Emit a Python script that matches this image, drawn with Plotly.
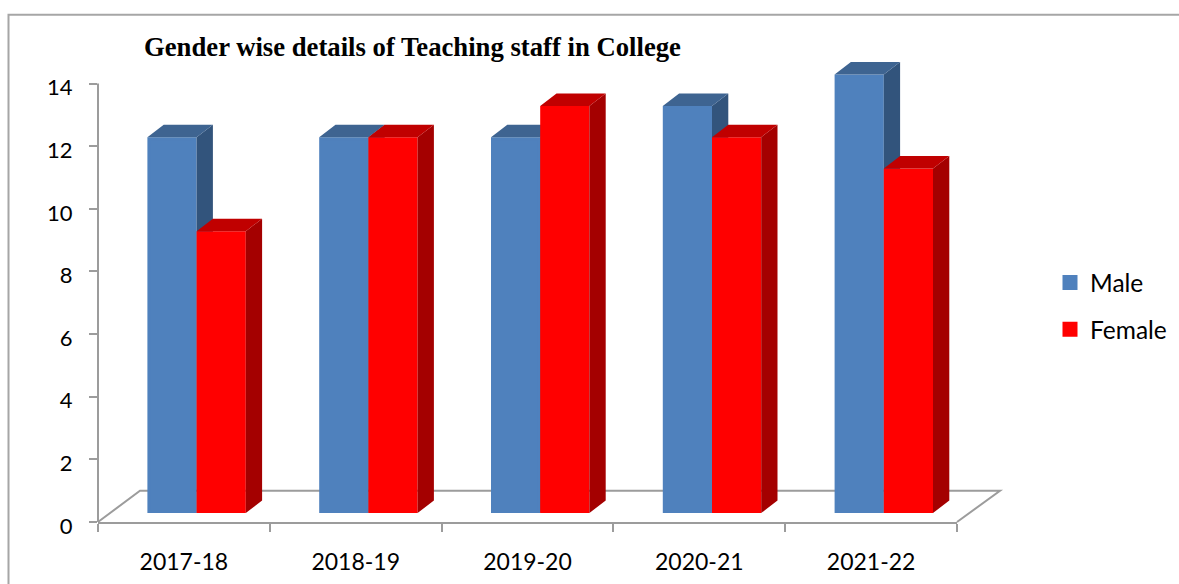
import plotly.graph_objects as go

# ---- data ----
categories = ["2017-18", "2018-19", "2019-20", "2020-21", "2021-22"]
male = [12, 12, 12, 13, 14]
female = [9, 12, 13, 12, 11]
y_ticks = [0, 2, 4, 6, 8, 10, 12, 14]
title_text = "Gender wise details of Teaching staff in College"

# ---- layout geometry (pixels of the page) ----
W, H = 1179, 584
AX_L, AX_R, AX_T, AX_B = 98.0, 957.0, 83.3, 522.3
PX_X = (AX_R - AX_L) / len(categories)
PX_Y = (AX_B - AX_T) / 14
Y_MAX = 15.2                 # head-room so the 3-D tops stay inside the plot area
PLOT_T = AX_B - Y_MAX * PX_Y
LINE = 3  # bar outline, same colour as the fill; also sizes the legend swatch

BASE = 9.0 / PX_Y            # bars stand part-way back on the floor
DEPTH_X = 16.3 / PX_X
DEPTH_Y = 12.5 / PX_Y
BAR_W = 49.2 / PX_X
M_OFF = (147.4 - AX_L) / PX_X - 0.5
F_OFF = M_OFF + BAR_W
IN_X = (LINE / 2) / PX_X
IN_Y = (LINE / 2) / PX_Y

GRAY = "#9C9C9C"
C_MALE, C_MALE_SIDE, C_MALE_TOP = "#4F81BD", "#32547C", "#3E6491"
C_FEM, C_FEM_SIDE, C_FEM_TOP = "#FF0000", "#A40000", "#C00000"


def px(x):
    return (x - AX_L) / (AX_R - AX_L)


def py(y):
    return (AX_B - y) / (AX_B - PLOT_T)


def faces(values, offset):
    """Side and top parallelograms of each bar, from its value."""
    sx, sy, tx, ty = [], [], [], []
    for i, v in enumerate(values):
        x0 = i + offset
        x1 = x0 + BAR_W
        top = BASE + v
        sx += [x1, x1 + DEPTH_X, x1 + DEPTH_X, x1, x1, None]
        sy += [BASE, BASE + DEPTH_Y, top + DEPTH_Y, top, BASE, None]
        tx += [x0, x1, x1 + DEPTH_X, x0 + DEPTH_X, x0, None]
        ty += [top, top, top + DEPTH_Y, top + DEPTH_Y, top, None]
    return sx, sy, tx, ty


def poly(x, y, colour, group, xa, ya):
    return go.Scatter(
        x=x, y=y, mode="lines", fill="toself", fillcolor=colour,
        line=dict(width=0, color=colour), hoverinfo="skip", showlegend=False,
        legendgroup=group, xaxis=xa, yaxis=ya,
    )


def front(name, values, offset, colour, xa, ya):
    return go.Bar(
        name=name, x=list(range(len(values))), y=[v - 2 * IN_Y for v in values],
        base=BASE + IN_Y, offset=offset + IN_X, width=BAR_W - 2 * IN_X,
        marker=dict(color=colour, line=dict(color=colour, width=LINE)),
        legendgroup=name, xaxis=xa, yaxis=ya,
    )


fig = go.Figure()
idx = list(range(len(categories)))

msx, msy, mtx, mty = faces(male, M_OFF)
fsx, fsy, ftx, fty = faces(female, F_OFF)

fig.add_trace(front("Male", male, M_OFF, C_MALE, "x", "y"))
fig.add_trace(poly(msx, msy, C_MALE_SIDE, "Male", "x", "y"))
fig.add_trace(poly(mtx, mty, C_MALE_TOP, "Male", "x", "y"))
fig.add_trace(front("Female", female, F_OFF, C_FEM, "x2", "y2"))
fig.add_trace(poly(fsx, fsy, C_FEM_SIDE, "Female", "x2", "y2"))
fig.add_trace(poly(ftx, fty, C_FEM_TOP, "Female", "x2", "y2"))

floor_path = "M{},{} L{},{} L{},{} L{},{}".format(
    px(98), py(522.3), px(140), py(491), px(1000), py(491), px(957), py(522.3)
)

fig.update_layout(
    width=W, height=H, autosize=False,
    margin=dict(l=AX_L, r=W - AX_R, t=PLOT_T, b=H - AX_B, autoexpand=False, pad=0),
    paper_bgcolor="white", plot_bgcolor="rgba(0,0,0,0)",
    barmode="overlay",
    font=dict(family="Lato", size=22, color="#000000"),
    title=dict(
        text="<b>" + title_text + "</b>",
        font=dict(family="Liberation Serif", size=26.7, color="#000000"),
        x=144 / W, xref="container", xanchor="left",
        y=1 - 47 / H, yref="container", yanchor="middle",
    ),
    xaxis=dict(
        range=[-0.5, 4.5], tickmode="array", tickvals=idx, ticktext=categories,
        tickfont=dict(size=23),
        ticks="outside", ticklen=18, tickcolor="rgba(0,0,0,0)",
        showline=True, linecolor=GRAY, linewidth=2, showgrid=False, zeroline=False,
        minor=dict(
            tickmode="array", tickvals=[i - 0.5 for i in range(len(categories) + 1)],
            ticks="outside", ticklen=8, tickwidth=2, tickcolor=GRAY, showgrid=False,
        ),
    ),
    yaxis=dict(
        range=[0, Y_MAX], tickmode="array", tickvals=y_ticks,
        ticks="outside", ticklen=8, tickwidth=2, tickcolor=GRAY,
        showline=False, showgrid=False, zeroline=False,
        ticklabelstandoff=12, ticklabelshift=4,
    ),
    xaxis2=dict(range=[-0.5, 4.5], overlaying="x", visible=False),
    yaxis2=dict(range=[0, Y_MAX], overlaying="y", visible=False),
    legend=dict(
        x=px(1050), y=py(260), xanchor="left", yanchor="top",
        traceorder="grouped", tracegroupgap=12, bgcolor="rgba(0,0,0,0)",
        font=dict(family="Lato", size=24.5, color="#000000"),
    ),
    shapes=[
        dict(type="path", xref="paper", yref="paper", path=floor_path, layer="below",
             line=dict(color=GRAY, width=2)),
        dict(type="line", xref="paper", yref="paper", layer="below",
             x0=px(AX_L), x1=px(AX_L), y0=py(AX_T), y1=py(AX_B),
             line=dict(color=GRAY, width=2)),
        dict(type="rect", xref="paper", yref="paper", layer="below",
             x0=px(8.5), x1=px(1200), y0=py(14.5), y1=py(620),
             line=dict(color="#A6A6A6", width=2), fillcolor="rgba(0,0,0,0)"),
    ],
)

fig.write_html("out.html", post_script="document.body.style.margin='0';",
               config=dict(displayModeBar=False))
